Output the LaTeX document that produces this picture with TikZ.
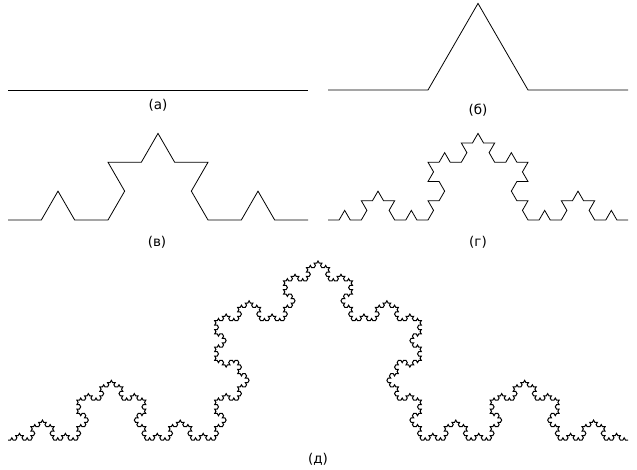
\documentclass[tikz,border=0pt]{standalone}
\usepackage{fontspec}
\setmainfont{DejaVu Sans}
\usetikzlibrary{lindenmayersystems}
\pgfdeclarelindenmayersystem{Koch curve}{\rule{F -> F+F--F+F}}
\begin{document}
\begin{tikzpicture}[x=1pt,y=1pt,
  curve/.style={line width=0.8pt, black, line join=miter},
  lbl/.style={font=\fontsize{13.5}{15}\selectfont, inner sep=0pt}]
\useasboundingbox[fill=white] (0,0) rectangle (637,469);
% (a)
\coordinate (a0) at (8,379);
\coordinate (a1) at (308,379);
\draw[curve] (a0) -- (a1);
% (b)
\begin{scope}[shift={(328,379)}]
\draw[curve, l-system={Koch curve, axiom=F, order=1, step=100pt, angle=60}] l-system;
\end{scope}
% (v)
\begin{scope}[shift={(8,249)}]
\draw[curve, l-system={Koch curve, axiom=F, order=2, step=33.3333pt, angle=60}] l-system;
\end{scope}
% (g)
\begin{scope}[shift={(328,249)}]
\draw[curve, l-system={Koch curve, axiom=F, order=3, step=11.1111pt, angle=60}] l-system;
\end{scope}
% (d)
\begin{scope}[shift={(8,29)}]
\draw[curve, line width=1pt, l-system={Koch curve, axiom=F, order=5, step=2.55144pt, angle=60}] l-system;
\end{scope}
\node[lbl] (la) at (158,364) {(а)};
\node[lbl] (lb) at (478,359) {(б)};
\node[lbl] (lv) at (157,227) {(в)};
\node[lbl] (lg) at (478,227) {(г)};
\node[lbl] (ld) at (318,10) {(д)};
\end{tikzpicture}
\end{document}
